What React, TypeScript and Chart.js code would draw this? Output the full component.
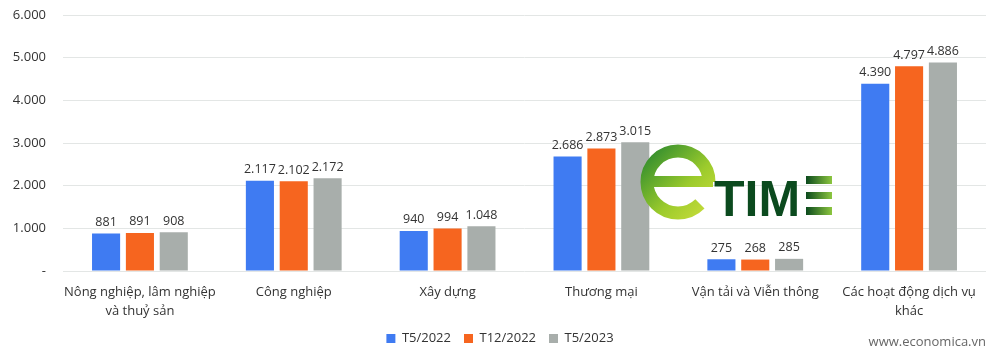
import React, { useEffect, useRef } from "react";
import { Chart, registerables } from "chart.js";

Chart.register(...registerables);

const categories: (string | string[])[] = [
  ["Nông nghiệp, lâm nghiệp", "và thuỷ sản"],
  "Công nghiệp",
  "Xây dựng",
  "Thương mại",
  "Vận tải và Viễn thông",
  ["Các hoạt động dịch vụ", "khác"],
];
const seriesNames = ["T5/2022", "T12/2022", "T5/2023"];
const t5_2022 = [881, 2117, 940, 2686, 275, 4390];
const t12_2022 = [891, 2102, 994, 2873, 268, 4797];
const t5_2023 = [908, 2172, 1048, 3015, 285, 4886];
const colors = ["#3F7BF2", "#F6651F", "#A8AEAB"];
const yMax = 6000;
const yStep = 1000;
const FONT = "'Open Sans', sans-serif";

const fmt = (v: number) => (v === 0 ? "-" : v.toLocaleString("de-DE"));

const labelPlugin = {
  id: "valueLabels",
  afterDatasetsDraw(chart: any) {
    const ctx = chart.ctx;
    ctx.save();
    ctx.font = `12.5px ${FONT}`;
    ctx.fillStyle = "#333";
    ctx.textAlign = "center";
    ctx.textBaseline = "bottom";
    chart.data.datasets.forEach((ds: any, i: number) => {
      const meta = chart.getDatasetMeta(i);
      meta.data.forEach((bar: any, j: number) => {
        ctx.fillText(fmt(ds.data[j]), bar.x, bar.y - 5);
      });
    });
    ctx.restore();
  },
};

const decorPlugin = {
  id: "decor",
  afterDraw(chart: any) {
    const ctx = chart.ctx;
    ctx.save();
    // source text
    ctx.font = `13px ${FONT}`;
    ctx.fillStyle = "#666";
    ctx.textAlign = "right";
    ctx.textBaseline = "middle";
    ctx.fillText("www.economica.vn", chart.width - 14, 342);
    // eTIME watermark
    const cx = 678, cy = 182, r = 31;
    const g = ctx.createLinearGradient(cx - r, cy - r, cx + r, cy + r);
    g.addColorStop(0, "#2E8B2E");
    g.addColorStop(0.6, "#9CCB2C");
    g.addColorStop(1, "#C6DC3A");
    ctx.strokeStyle = g;
    ctx.lineWidth = 13;
    ctx.beginPath();
    ctx.arc(cx, cy, r, 0.25 * Math.PI, 2 * Math.PI, false);
    ctx.stroke();
    ctx.fillStyle = g;
    ctx.fillRect(cx - r - 4, cy - 6, 2 * r + 8, 11);
    ctx.fillStyle = "#0B4A1E";
    ctx.font = `bold 50px 'Liberation Sans', sans-serif`;
    ctx.textAlign = "left";
    ctx.textBaseline = "alphabetic";
    ctx.fillText("TIM", 714, 216);
    const ex = 806;
    const eg = ctx.createLinearGradient(ex, 0, ex + 26, 0);
    eg.addColorStop(0, "#0B4A1E");
    eg.addColorStop(1, "#8CC63F");
    ctx.fillStyle = eg;
    ctx.fillRect(ex, 176, 26, 8);
    ctx.fillRect(ex, 192, 26, 7);
    ctx.fillRect(ex, 207, 26, 8);
    ctx.restore();
  },
};

export default function App() {
  const ref = useRef<HTMLCanvasElement>(null);
  useEffect(() => {
    document.body.style.margin = "0";
    const chart = new Chart(ref.current!, {
      type: "bar",
      data: {
        labels: categories,
        datasets: [t5_2022, t12_2022, t5_2023].map((d, i) => ({
          label: seriesNames[i],
          data: d,
          backgroundColor: colors[i],
          categoryPercentage: 0.66,
          barPercentage: 0.83,
        })),
      },
      options: {
        animation: false,
        responsive: false,
        maintainAspectRatio: false,
        layout: { padding: { top: 0, right: 0, left: 0, bottom: 6 } },
        plugins: {
          legend: {
            position: "bottom",
            labels: {
              font: { family: FONT, size: 13 },
              color: "#333",
              boxWidth: 9,
              boxHeight: 9,
              padding: 13,
            },
          },
          tooltip: { enabled: false },
        },
        scales: {
          x: {
            grid: { display: false, drawTicks: false },
            border: { display: false },
            afterFit: (scale: any) => {
              scale.height = 48;
              scale.paddingRight = 14;
            },
            ticks: {
              font: { family: FONT, size: 13, lineHeight: 1.45 },
              color: "#333",
              maxRotation: 0,
              autoSkip: false,
              padding: 12,
            },
          },
          y: {
            min: 0,
            max: yMax,
            border: { display: false },
            grid: { color: "#E3E6E5", drawTicks: false },
            afterFit: (scale: any) => {
              scale.width = 63;
              scale.paddingTop = 15;
              scale.paddingBottom = 8;
            },
            ticks: {
              stepSize: yStep,
              font: { family: FONT, size: 13 },
              color: "#333",
              padding: 17,
              callback: (v: any) => fmt(Number(v)),
            },
          },
        },
      },
      plugins: [labelPlugin, decorPlugin],
    });
    return () => chart.destroy();
  }, []);
  return (
    <div style={{ width: 1000, height: 361, background: "#fff" }}>
      <canvas ref={ref} width={1000} height={361} />
    </div>
  );
}
